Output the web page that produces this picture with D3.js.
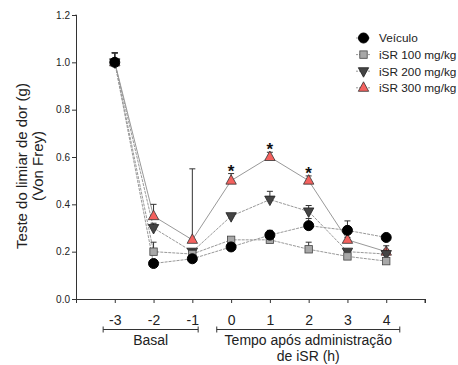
<!DOCTYPE html>
<html><head><meta charset="utf-8">
<script src="https://cdn.jsdelivr.net/npm/d3@7"></script>
<style>body{margin:0;background:#fff}svg{display:block}text{font-family:Arial,"Liberation Sans",sans-serif}</style>
</head><body>
<svg id="c" width="458" height="365"></svg>
<script>
const times = [-3,-2,-1,0,1,2,3,4];
const tickLabels = ["-3","-2","-1","0","1","2","3","4"];
const yTicks = [0,0.2,0.4,0.6,0.8,1.0,1.2];
const seriesNames = ["Veículo","iSR 100 mg/kg","iSR 200 mg/kg","iSR 300 mg/kg"];
const veiculo = [1.0,0.15,0.17,0.22,0.27,0.31,0.29,0.26];
const veiculoErr = [0.04,0.01,0.01,0.01,0.02,0.03,0.04,0.01];
const isr100 = [1.0,0.20,0.19,0.25,0.25,0.21,0.18,0.16];
const isr100Err = [0.04,0.04,0.02,0.01,0.01,0.03,0.01,0.01];
const isr200 = [1.0,0.30,0.20,0.35,0.42,0.37,0.20,0.19];
const isr200Err = [0.04,0.02,0.01,0.01,0.035,0.025,0.01,0.035];
const isr300 = [1.0,0.35,0.25,0.50,0.60,0.50,0.25,0.20];
const isr300Err = [0.04,0.05,0.30,0.03,0.02,0.02,0.01,0.01];
const starTimes = [0,1,2];
const groups = [{from:-3.3,to:-0.85,lines:["Basal"]},
                {from:-0.37,to:4.35,lines:["Tempo após administração","de iSR (h)"]}];

const svg = d3.select("#c");
const x = d3.scaleLinear().domain([-4,5]).range([76,425]);
const y = d3.scaleLinear().domain([0,1.2]).range([299,15]);

const series = [
  {name:seriesNames[3], v:isr300, e:isr300Err, shape:"tri", fill:"#f4615e", stroke:"#333"},
  {name:seriesNames[2], v:isr200, e:isr200Err, shape:"itri", fill:"#444", stroke:"#222"},
  {name:seriesNames[1], v:isr100, e:isr100Err, shape:"sq", fill:"#a8a8a8", stroke:"#444"},
  {name:seriesNames[0], v:veiculo, e:veiculoErr, shape:"circ", fill:"#000", stroke:"#000"}
];

function marker(g, shape, cx, cy, fill, stroke){
  if(shape==="circ") g.append("circle").attr("cx",cx).attr("cy",cy).attr("r",5).attr("fill",fill).attr("stroke",stroke);
  else if(shape==="sq") g.append("rect").attr("x",cx-3.7).attr("y",cy-3.7).attr("width",7.4).attr("height",7.4).attr("fill",fill).attr("stroke",stroke).attr("stroke-width",0.8);
  else if(shape==="tri") g.append("path").attr("d",`M${cx},${cy-6}L${cx+5.2},${cy+3.5}L${cx-5.2},${cy+3.5}Z`).attr("fill",fill).attr("stroke",stroke).attr("stroke-width",0.8);
  else g.append("path").attr("d",`M${cx},${cy+6}L${cx+5.2},${cy-3.5}L${cx-5.2},${cy-3.5}Z`).attr("fill",fill).attr("stroke",stroke).attr("stroke-width",0.8);
}

// axes
const yAxis = d3.axisLeft(y).tickValues(yTicks).tickFormat(d3.format(".1f")).tickSize(4).tickPadding(2);
const gy = svg.append("g").attr("transform","translate(76,0)").call(yAxis);
gy.select(".domain").attr("stroke","#333").attr("d","M-0.5,15H0.5V299.5");
gy.selectAll("text").attr("font-size",10).attr("fill","#222");
gy.selectAll("line").attr("stroke","#333");

const xAxis = d3.axisBottom(x).tickValues(d3.range(-4,6)).tickFormat(d=> (d>=-3&&d<=4)? tickLabels[d+3] : "").tickSize(4);
const gx = svg.append("g").attr("transform","translate(0,299)").call(xAxis);
gx.select(".domain").attr("stroke","#333").attr("d",`M76,0.5H${x(5)}V4`);
gx.selectAll("text").attr("font-size",14).attr("fill","#222").attr("y",26).attr("dy",0);
gx.selectAll("line").attr("stroke","#333");

// group brackets
groups.forEach(gr=>{
  const g = svg.append("g");
  const by = 329.5;
  g.append("path").attr("d",`M${x(gr.from)},${by-3}V${by+3}M${x(gr.from)},${by}H${x(gr.to)}M${x(gr.to)},${by-3}V${by+3}`).attr("stroke","#333").attr("fill","none");
  gr.lines.forEach((t,i)=>{
    g.append("text").attr("x",(x(gr.from)+x(gr.to))/2).attr("y",345+i*16).attr("text-anchor","middle").attr("font-size",14).attr("fill","#222").text(t);
  });
});

// y label
const yl = svg.append("text").attr("transform","translate(27,166) rotate(-90)").attr("text-anchor","middle").attr("font-size",15).attr("fill","#222");
yl.append("tspan").attr("x",0).attr("dy",0).text("Teste do limiar de dor (g)");
yl.append("tspan").attr("x",0).attr("dy",16).text("(Von Frey)");

// lines
const line = d3.line().x((d,i)=>x(times[i])).y(d=>y(d));
series.forEach(s=>{
  svg.append("path").datum(s.v).attr("d",line).attr("fill","none").attr("stroke","#999").attr("stroke-width",1).attr("stroke-dasharray", s.shape==="tri"?null:"3,1");
});

// error bars and markers
series.forEach(s=>{
  const g = svg.append("g");
  s.v.forEach((v,i)=>{
    const cx = x(times[i]), top = y(v+s.e[i]);
    g.append("path").attr("d",`M${cx},${y(v)}V${top}M${cx-3},${top}H${cx+3}`).attr("stroke","#333").attr("stroke-width",1).attr("fill","none");
  });
  s.v.forEach((v,i)=>marker(g,s.shape,x(times[i]),y(v),s.fill,s.stroke));
});

// significance stars
starTimes.forEach(t=>{
  const i = times.indexOf(t);
  svg.append("text").attr("x",x(t)).attr("y",y(isr300[i]+isr300Err[i])+3).attr("text-anchor","middle").attr("font-size",17).attr("font-weight","bold").attr("fill","#111").text("*");
});

// legend
const legendOrder = [series[3],series[2],series[1],series[0]];
legendOrder.forEach((s,i)=>{
  const ly = 38 + i*16.6;
  const g = svg.append("g");
  g.append("line").attr("x1",356).attr("x2",371).attr("y1",ly).attr("y2",ly).attr("stroke","#999").attr("stroke-dasharray","2,1");
  marker(g,s.shape,363.5,ly,s.fill,s.stroke);
  g.append("text").attr("x",379).attr("y",ly+4.3).attr("font-size",11.8).attr("fill","#222").text(s.name);
});
</script>
</body></html>
